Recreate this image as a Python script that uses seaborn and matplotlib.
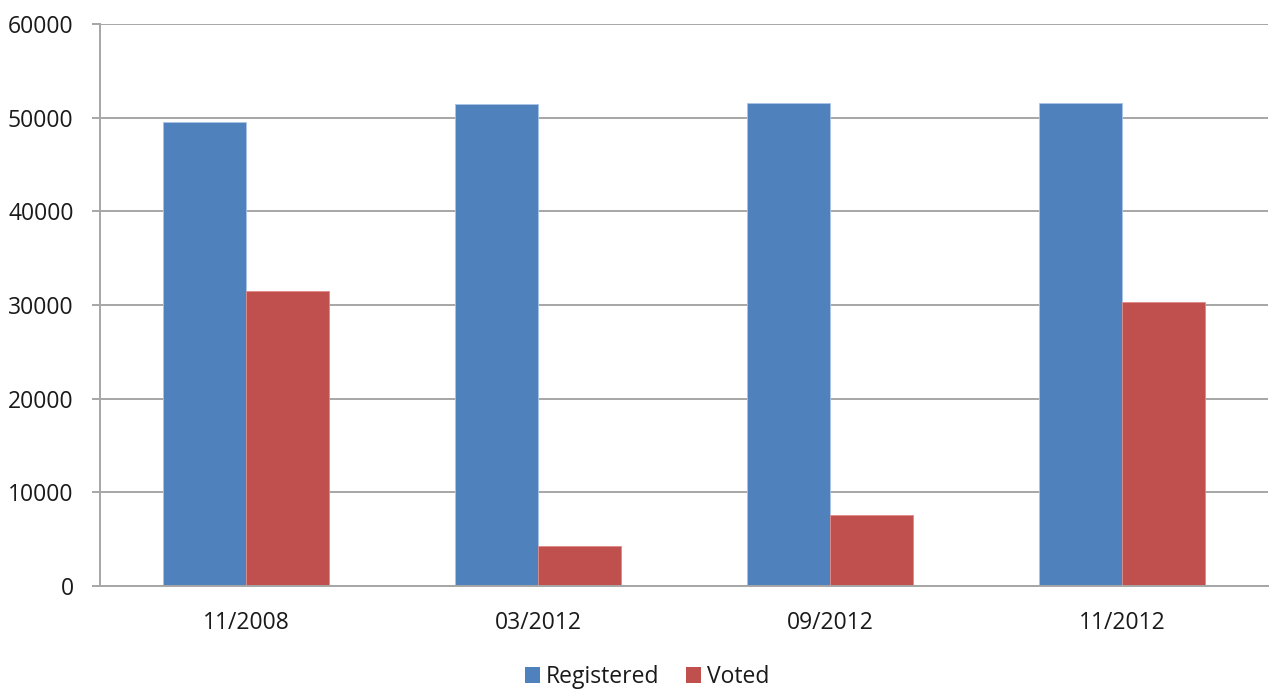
import pandas as pd
import matplotlib
matplotlib.use("Agg")
import matplotlib.pyplot as plt
import seaborn as sns

# values
dates = ["11/2008", "03/2012", "09/2012", "11/2012"]
registered = [49530, 51420, 51560, 51560]
voted = [31490, 4270, 7580, 30290]
series_names = ["Registered", "Voted"]
colors = ["#4F81BD", "#C0504D"]

df = pd.DataFrame({
    "date": dates * 2,
    "count": registered + voted,
    "series": [series_names[0]] * len(dates) + [series_names[1]] * len(dates),
})

sns.set_style("white")
plt.rcParams["font.family"] = ["Open Sans", "DejaVu Sans"]

grid_gray = "#A6A6A6"
text_color = "#1a1a1a"
fig = plt.figure(figsize=(12.71, 6.90), dpi=100)
ax = fig.add_axes([100 / 1271, 1 - 586 / 690, 1168 / 1271, 562 / 690])

sns.barplot(data=df, x="date", y="count", hue="series", order=dates,
            hue_order=series_names, palette=colors, saturation=1, width=0.57,
            edgecolor="#A9C4E6", linewidth=0.6, ax=ax, legend=False)
for bar in ax.patches:
    if bar.get_facecolor()[0] > 0.5:
        bar.set_edgecolor("#E08A88")

ax.set_ylim(0, 60000)
ax.set_xlim(-0.5, 3.5)
ax.set_yticks(range(0, 60001, 10000))
ax.yaxis.grid(True, color=grid_gray, linewidth=1.4)
ax.set_axisbelow(True)
ax.set_xlabel("")
ax.set_ylabel("")

for side in ["top", "right"]:
    ax.spines[side].set_visible(False)
for side in ["left", "bottom"]:
    ax.spines[side].set_color(grid_gray)
    ax.spines[side].set_linewidth(1.4)

ax.set_xticks([-0.5, 0.5, 1.5, 2.5, 3.5], minor=True)
ax.tick_params(axis="x", which="major", length=0, pad=18, labelsize=16.5, labelcolor=text_color)
ax.tick_params(axis="x", which="minor", length=6.5, width=1.4, color=grid_gray)
ax.tick_params(axis="y", length=6, width=1.4, color=grid_gray, pad=13,
               labelsize=16.5, labelcolor=text_color)
ax.tick_params(axis="y", left=True)

handles = [plt.Rectangle((0, 0), 1, 1, facecolor=c, edgecolor="none") for c in colors]
fig.legend(handles, series_names, loc="center", bbox_to_anchor=(647 / 1271, 1 - 677 / 690),
           ncol=2, frameon=False, fontsize=16.5, handlelength=0.65, handleheight=0.65,
           handletextpad=0.25, columnspacing=1.2, labelcolor=text_color)

fig.savefig("out.png", dpi=100)
